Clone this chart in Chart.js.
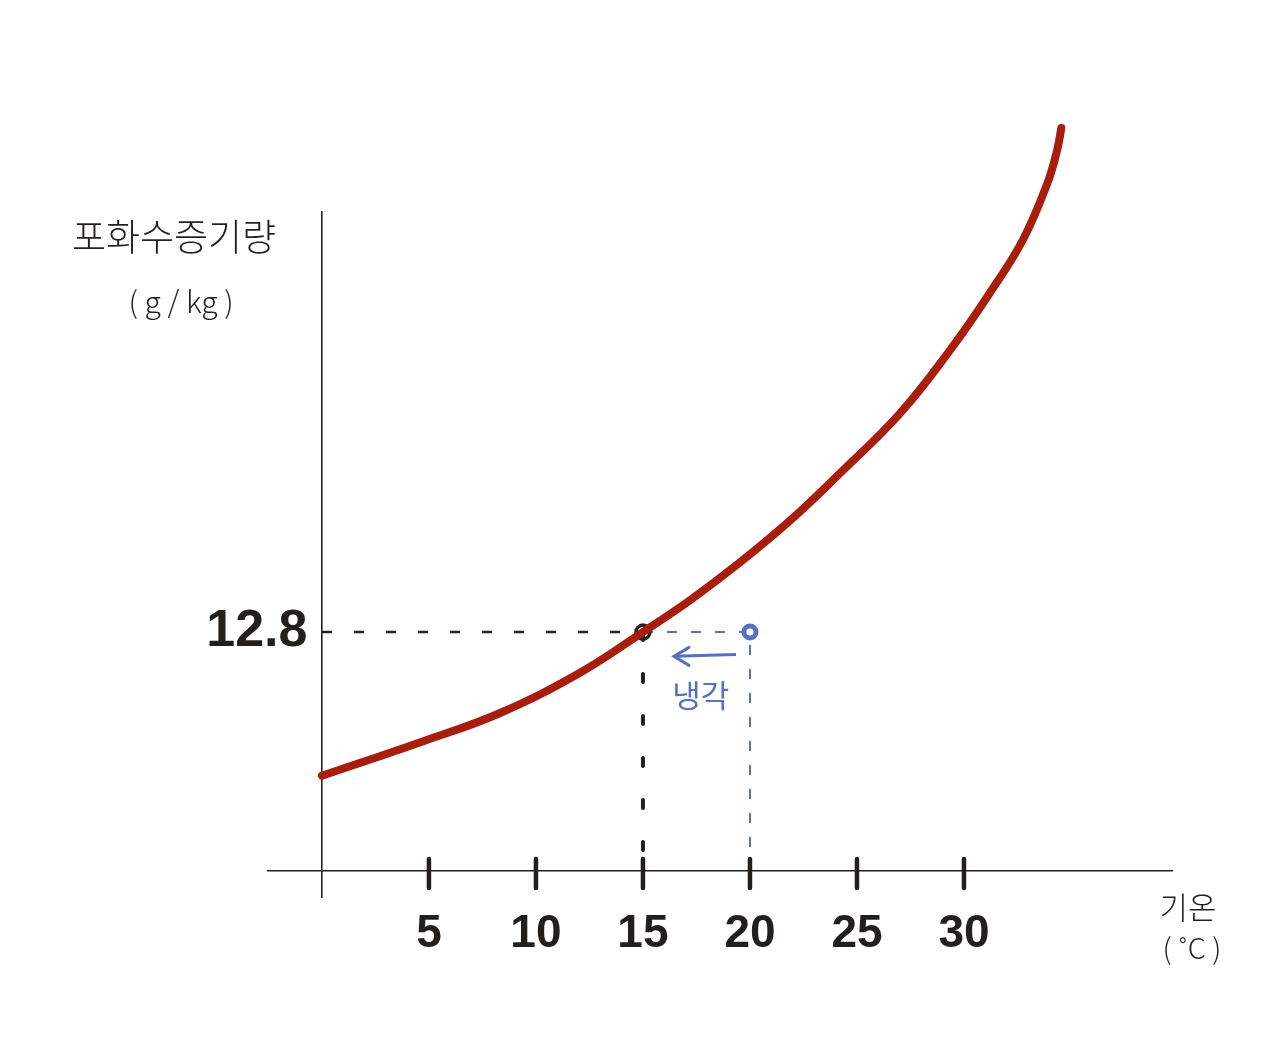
<!DOCTYPE html>
<html>
<head>
<meta charset="utf-8">
<script src="https://cdn.jsdelivr.net/npm/chart.js@4"></script>
<style>
  body { margin: 0; background: #fff; }
  #wrap { width: 1280px; height: 1057px; }
</style>
</head>
<body>
<div id="wrap"><canvas id="chart"></canvas></div>
<script>
// saturation curve (temperature °C, g/kg)
const tempC = [0, 4.6, 8.3, 12.1, 15, 17.2, 19.5, 21.9, 24.2, 27.0, 29.35, 31.2, 32.75, 33.9, 34.35, 34.55];
const satVapor = [5.1, 6.9, 8.45, 10.65, 12.8, 14.5, 16.5, 18.8, 21.3, 24.5, 27.9, 30.95, 33.8, 36.85, 38.6, 39.8];

const xTicks = [5, 10, 15, 20, 25, 30];
const yTicks = [12.8];

// air parcel: dew point at 15°C, start at 20°C
const dewX = 15, startX = 20, vaporY = 12.8;
const arrowX = [19.35, 16.45];
const arrowY = [11.6, 11.5];

const xLabel = ['기온', '( ˚C )'];
const yLabel = ['포화수증기량', '( g / kg )'];
const coolLabel = '냉각';

const RED = '#a81d0b';
const INK = '#231f1c';
const BLUE = '#5870c0';

const pts = (xs, ys) => xs.map((x, i) => ({ x: x, y: ys[i] }));

const decor = {
  id: 'decor',
  afterDatasetsDraw(chart) {
    const ctx = chart.ctx;
    const x = chart.scales.x, y = chart.scales.y;
    const y0 = y.getPixelForValue(0);
    ctx.save();
    // hand-drawn tick marks crossing the x axis
    ctx.strokeStyle = INK;
    ctx.lineWidth = 4.5;
    ctx.lineCap = 'round';
    xTicks.forEach(v => {
      const px = x.getPixelForValue(v);
      ctx.beginPath();
      ctx.moveTo(px, y0 - 12);
      ctx.lineTo(px, y0 + 17);
      ctx.stroke();
    });
    // arrow head
    const meta = chart.getDatasetMeta(4);
    const tip = meta.data[1];
    ctx.strokeStyle = BLUE;
    ctx.lineWidth = 3;
    ctx.beginPath();
    ctx.moveTo(tip.x + 15, tip.y - 9);
    ctx.lineTo(tip.x, tip.y);
    ctx.lineTo(tip.x + 15, tip.y + 9);
    ctx.stroke();
    // texts
    ctx.textAlign = 'center';
    ctx.textBaseline = 'middle';
    ctx.fillStyle = INK;
    ctx.font = '300 37px "Noto Sans CJK KR"';
    ctx.fillText(yLabel[0], 174, 237);
    ctx.font = '300 30px "Noto Sans CJK KR"';
    ctx.fillText(yLabel[1], 181, 302);
    ctx.font = '300 31px "Noto Sans CJK KR"';
    ctx.fillText(xLabel[0], 1188, 907);
    ctx.font = '300 29px "Noto Sans CJK KR"';
    ctx.fillText(xLabel[1], 1192, 948);
    ctx.fillStyle = BLUE;
    ctx.font = '400 31px "Noto Sans CJK KR"';
    ctx.fillText(coolLabel, x.getPixelForValue(17.7), y.getPixelForValue(9.4));
    ctx.restore();
  }
};

new Chart(document.getElementById('chart'), {
  type: 'line',
  data: {
    datasets: [
      {
        data: pts(tempC, satVapor),
        borderColor: RED,
        borderWidth: 8,
        borderCapStyle: 'round',
        tension: 0.4,
        pointRadius: 0,
        clip: false,
        order: 0
      },
      {
        // black dashed guide: y axis -> curve -> x axis
        data: [{ x: 0, y: vaporY }, { x: dewX, y: vaporY }],
        borderColor: INK,
        borderWidth: 2.5,
        borderDash: [10, 22],
        pointRadius: 0,
        order: 2
      },
      {
        data: [{ x: dewX, y: vaporY }, { x: dewX, y: 0 }],
        borderColor: INK,
        borderWidth: 4,
        borderDash: [8, 34],
        borderCapStyle: 'round',
        pointRadius: [7, 0],
        pointBorderWidth: 3.5,
        pointBorderColor: INK,
        pointBackgroundColor: 'rgba(0,0,0,0)',
        order: 1
      },
      {
        // blue guide from start point
        data: [{ x: dewX, y: vaporY }, { x: startX, y: vaporY }, { x: startX, y: 0 }],
        borderColor: BLUE,
        borderWidth: 2,
        borderDash: [10, 14],
        pointRadius: [0, 6, 0],
        pointBorderWidth: 5,
        pointBorderColor: BLUE,
        pointBackgroundColor: '#fff',
        order: 3
      },
      {
        data: pts(arrowX, arrowY),
        borderColor: BLUE,
        borderWidth: 3,
        pointRadius: 0,
        order: 3
      }
    ]
  },
  options: {
    responsive: true,
    maintainAspectRatio: false,
    animation: false,
    events: [],
    layout: { padding: { left: 268, right: 108, top: 212, bottom: 160 } },
    plugins: { legend: { display: false }, tooltip: { enabled: false } },
    scales: {
      x: {
        type: 'linear',
        min: -2.52,
        max: 39.72,
        position: { y: 0 },
        afterBuildTicks: s => { s.ticks = xTicks.map(v => ({ value: v })); },
        grid: { drawOnChartArea: false, drawTicks: false },
        border: { color: INK, width: 1.6 },
        ticks: {
          color: INK,
          padding: 36,
          font: { family: '"Liberation Sans", Arial', size: 46, weight: 'bold' }
        }
      },
      y: {
        type: 'linear',
        min: -1.39,
        max: 35.3,
        position: { x: 0 },
        afterBuildTicks: s => { s.ticks = yTicks.map(v => ({ value: v })); },
        grid: { drawOnChartArea: false, drawTicks: false },
        border: { color: INK, width: 1.6 },
        ticks: {
          color: INK,
          padding: 20,
          // trailing space keeps the label clear of the axis line
          callback: v => v.toFixed(1) + ' ',
          font: { family: '"Liberation Sans", Arial', size: 52, weight: 'bold' }
        }
      }
    }
  },
  plugins: [decor]
});
</script>
</body>
</html>
